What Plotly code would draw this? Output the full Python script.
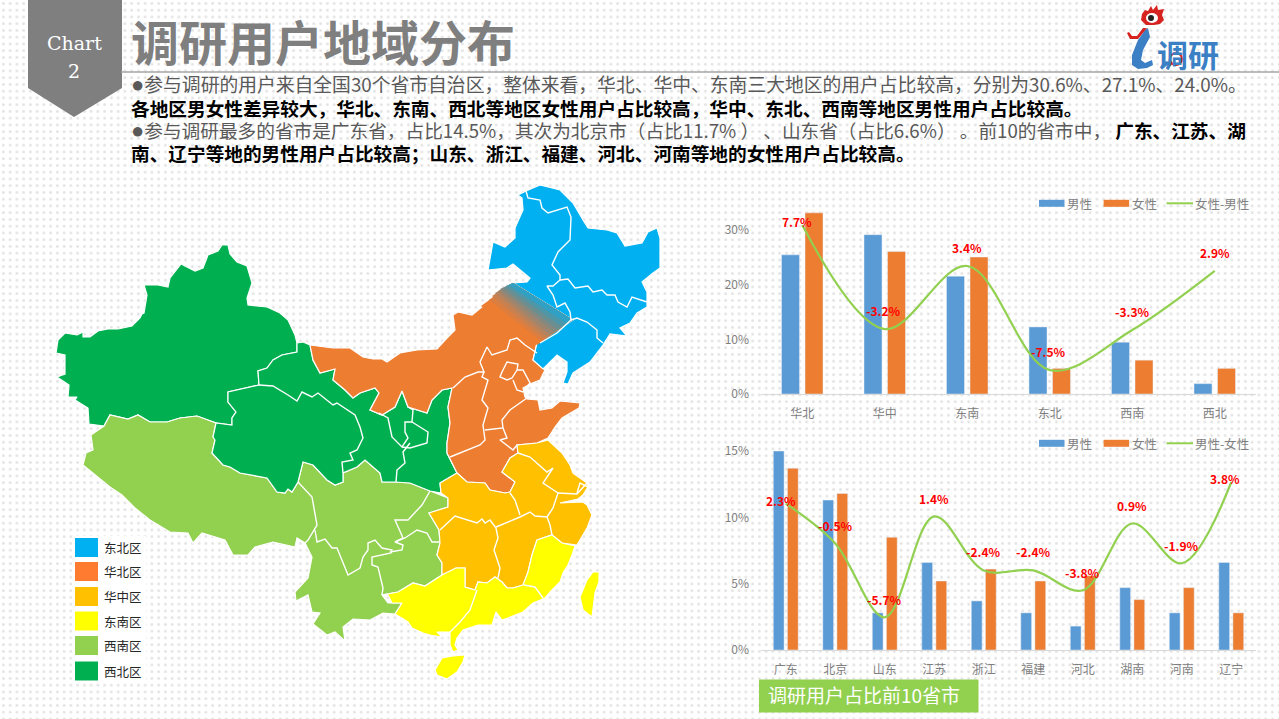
"""Survey respondents by region: slide with a region map and two bar + line charts."""

import base64

import plotly.graph_objects as go

BLUE = "#5b9bd5"
ORANGE = "#ed7d31"
GREEN = "#92d050"
FONT = "Noto Sans CJK SC"

# top chart
regions = ["华北", "华中", "东南", "东北", "西南", "西北"]
region_male = [25.5, 29.2, 21.6, 12.3, 9.5, 1.9]
region_female = [33.2, 26.1, 25.1, 4.7, 6.2, 4.7]
region_diff = [7.7, -3.2, 3.4, -7.5, -3.3, 2.9]
region_ticks = [0, 10, 20, 30]
region_tick_labels = ["0%", "10%", "20%", "30%"]
region_label_xshift = [-5, -1, 0, -1, 0, 0]
region_label_yshift = [3, 19, 19, 19, 19, 18]

# bottom chart
provinces = ["广东", "北京", "山东", "江苏", "浙江", "福建", "河北", "湖南", "河南", "辽宁"]
province_male = [15.0, 11.3, 2.8, 6.6, 3.7, 2.8, 1.8, 4.7, 2.8, 6.6]
province_female = [13.7, 11.8, 8.5, 5.2, 6.1, 5.2, 5.6, 3.8, 4.7, 2.8]
province_diff = [2.3, -0.5, -5.7, 1.4, -2.4, -2.4, -3.8, 0.9, -1.9, 3.8]
province_ticks = [0, 5, 10, 15]
province_tick_labels = ["0%", "5%", "10%", "15%"]
province_label_xshift = [-5, 0, 0, 0, 0, 0, 0, 0, 0, -6]
province_label_yshift = [3, 18, 18, 18, 19, 19, 18, 18, 18, 4]

# map outlines, page pixels
xinjiang = [(56, 353), (58, 340), (65, 333), (77, 335), (83, 332), (83, 337), (90, 337), (98, 331), (108, 329),
            (118, 329), (132, 326), (140, 318), (142, 314), (144, 313), (147, 295), (144, 285), (158, 285), (168, 287),
            (170, 278), (181, 264), (195, 271), (203, 268), (208, 255), (218, 251), (222, 245), (228, 245), (230, 254),
            (237, 262), (247, 266), (252, 283), (247, 298), (248, 305), (267, 307), (280, 313), (288, 320), (295, 335),
            (297, 343), (297, 352), (282, 355), (273, 360), (267, 368), (258, 371), (259, 385), (228, 392), (228, 402),
            (236, 412), (232, 418), (232, 425), (216, 423), (197, 416), (180, 418), (167, 422), (150, 422), (138, 415),
            (128, 419), (110, 415), (104, 426), (89, 424), (88, 408), (75, 400), (77, 397), (68, 397), (69, 385),
            (57, 377), (65, 374), (65, 355)]
northwest = [(297, 343), (303, 342), (310, 345), (313, 360), (320, 373), (335, 369), (333, 380), (345, 390), (353, 398),
             (360, 393), (375, 388), (379, 393), (370, 410), (382, 415), (395, 407), (402, 391), (408, 407), (427, 413),
             (432, 400), (442, 390), (452, 388), (448, 407), (450, 423), (447, 443), (447, 453), (457, 473), (440, 483),
             (441, 493), (430, 491), (410, 483), (395, 482), (382, 482), (380, 473), (365, 460), (357, 467), (343, 473),
             (343, 482), (335, 485), (327, 480), (313, 465), (303, 462), (298, 482), (292, 492), (288, 489), (285, 493),
             (277, 492), (267, 478), (240, 473), (230, 467), (223, 465), (212, 453), (215, 440), (213, 437), (216, 423),
             (232, 425), (232, 418), (236, 412), (228, 402), (228, 392), (259, 385), (258, 371), (267, 368), (273, 360),
             (282, 355), (297, 352)]
southwest = [(83, 465), (86, 453), (93, 450), (91, 435), (104, 426), (110, 415), (128, 419), (138, 415), (150, 422),
             (167, 422), (180, 418), (197, 416), (216, 423), (213, 437), (215, 440), (212, 453), (223, 465), (230, 467),
             (240, 473), (267, 478), (277, 492), (285, 493), (288, 489), (292, 492), (298, 482), (303, 462), (313, 465),
             (327, 480), (335, 485), (343, 482), (343, 473), (357, 467), (365, 460), (380, 473), (382, 482), (395, 482),
             (410, 483), (430, 491), (448, 498), (448, 507), (429, 513), (439, 530), (440, 543), (437, 555), (442, 563),
             (442, 575), (425, 586), (413, 583), (398, 592), (382, 595), (388, 603), (402, 603), (395, 614), (383, 613),
             (370, 620), (353, 619), (343, 627), (345, 641), (335, 632), (327, 635), (313, 624), (320, 613), (312, 612),
             (308, 595), (296, 601), (295, 592), (308, 578), (312, 557), (305, 543), (297, 538), (295, 547), (273, 542),
             (255, 547), (248, 555), (233, 555), (225, 540), (202, 533), (193, 543), (188, 533), (170, 532), (150, 520),
             (135, 508), (122, 495), (110, 487)]
north = [(310, 345), (333, 348), (350, 348), (363, 357), (373, 359), (382, 359), (387, 362), (400, 353), (417, 350),
         (437, 349), (447, 338), (455, 330), (453, 315), (458, 312), (472, 315), (483, 306), (537, 343), (533, 360),
         (545, 370), (540, 380), (530, 384), (523, 388), (525, 397), (527, 399), (538, 400), (540, 410), (552, 408),
         (560, 401), (580, 403), (579, 408), (567, 415), (562, 418), (555, 427), (548, 438), (537, 443), (517, 445),
         (518, 453), (510, 458), (502, 472), (515, 482), (510, 492), (505, 493), (490, 490), (485, 483), (467, 482),
         (457, 473), (447, 453), (447, 443), (450, 423), (448, 407), (452, 388), (442, 390), (432, 400), (427, 413),
         (408, 407), (402, 391), (395, 407), (382, 415), (370, 410), (379, 393), (375, 388), (360, 393), (353, 398),
         (345, 390), (333, 380), (335, 369), (320, 373), (313, 360)]
central = [(440, 483), (457, 473), (467, 482), (485, 483), (490, 490), (505, 493), (510, 492), (515, 482), (502, 472),
           (510, 458), (518, 453), (517, 445), (537, 443), (548, 440), (562, 453), (570, 465), (573, 473), (587, 483),
           (588, 488), (583, 495), (578, 499), (560, 503), (583, 502), (587, 505), (592, 515), (587, 528), (577, 545),
           (562, 543), (552, 535), (537, 540), (532, 555), (528, 572), (523, 585), (513, 588), (507, 588), (502, 582),
           (495, 577), (487, 583), (478, 582), (475, 590), (465, 587), (465, 568), (456, 568), (442, 575), (442, 563),
           (437, 555), (440, 543), (439, 530), (429, 513), (448, 507), (448, 498), (441, 493)]
southeast = [(382, 595), (398, 592), (413, 583), (425, 586), (442, 575), (456, 568), (465, 568), (465, 587), (475, 590),
             (478, 582), (487, 583), (495, 577), (502, 582), (507, 588), (513, 588), (523, 585), (528, 572), (532, 555),
             (537, 540), (552, 535), (562, 543), (575, 546), (572, 555), (568, 565), (563, 573), (560, 582), (552, 590),
             (545, 598), (533, 603), (523, 612), (508, 618), (502, 620), (496, 612), (492, 625), (478, 625), (463, 630),
             (457, 638), (455, 645), (458, 650), (453, 652), (450, 645), (450, 632), (437, 632), (442, 637), (430, 635),
             (423, 633), (412, 628), (408, 622), (395, 614), (402, 603), (392, 603), (388, 595)]
hainan = [(435, 670), (442, 658), (453, 656), (465, 655), (463, 662), (457, 672), (447, 679), (437, 675)]
taiwan = [(593, 572), (599, 572), (599, 582), (595, 593), (592, 617), (583, 610), (580, 597), (587, 580)]
northeast = [(488, 270), (493, 242), (505, 247), (515, 238), (515, 228), (523, 210), (522, 198), (518, 195), (526, 191),
             (540, 185), (560, 190), (573, 203), (583, 220), (588, 228), (607, 230), (617, 233), (625, 246), (642, 243),
             (648, 232), (657, 228), (660, 238), (660, 268), (653, 273), (642, 282), (647, 292), (647, 307), (637, 313),
             (630, 323), (620, 328), (627, 336), (610, 334), (603, 345), (590, 362), (573, 373), (568, 384), (563, 383),
             (567, 372), (567, 362), (557, 355), (543, 369), (533, 360), (537, 343), (573, 320), (513, 283), (527, 282),
             (530, 278), (513, 264), (507, 268)]

# orange to blue fade across Inner Mongolia: each band runs to the blue end
fade_bands = [
    ("#ed7d31", [(481, 306), (513, 283), (573, 320), (537, 345)]),
    ("#dc7e3f", [(489, 300), (513, 283), (573, 320), (541, 341)]),
    ("#c9814f", [(492, 296), (513, 283), (573, 320), (544, 339)]),
    ("#b4835f", [(495, 293), (513, 283), (573, 320), (547, 337)]),
    ("#9d8670", [(498, 291), (513, 283), (573, 320), (550, 335)]),
    ("#858a80", [(500, 289), (513, 283), (573, 320), (554, 332)]),
    ("#6a8f92", [(503, 288), (513, 283), (573, 320), (558, 330)]),
    ("#4e97a8", [(506, 286), (513, 283), (573, 320), (562, 327)]),
    ("#30a1c4", [(509, 285), (513, 283), (573, 320), (567, 324)]),
]

province_borders = [
    [(526, 191), (528, 198), (540, 200), (542, 208), (548, 213), (567, 207), (571, 217), (570, 240), (558, 252),
     (552, 265), (560, 275), (560, 280), (553, 286), (547, 286), (553, 295), (557, 307), (565, 303), (570, 312),
     (571, 320), (557, 333), (540, 343)],
    [(560, 280), (568, 279), (575, 288), (588, 286), (593, 292), (602, 290), (607, 295), (615, 295), (618, 302),
     (627, 307), (632, 297), (647, 302)],
    [(571, 320), (577, 318), (587, 322), (597, 330), (597, 338), (603, 343)],
    [(537, 353), (525, 345), (517, 338), (510, 340), (507, 350), (492, 355), (487, 347), (480, 362), (484, 372),
     (478, 372), (465, 377), (453, 388)],
    [(484, 372), (482, 377), (488, 380), (482, 400), (488, 408), (483, 425), (485, 440), (480, 445), (450, 457)],
    [(485, 430), (503, 428), (502, 420), (510, 410), (527, 398)],
    [(503, 428), (507, 438), (500, 440), (513, 450), (517, 445)],
    [(502, 372), (507, 362), (518, 364), (517, 370), (512, 378), (507, 380), (500, 377), (502, 372)],
    [(517, 370), (523, 370), (530, 383), (523, 392), (517, 390), (513, 380)],
    [(259, 385), (273, 386), (288, 395), (297, 401), (302, 392), (312, 397), (318, 393), (333, 405), (337, 403),
     (355, 415), (360, 427), (363, 438), (357, 450), (350, 453), (353, 460), (342, 462), (343, 473)],
    [(379, 413), (388, 418), (392, 437), (402, 447), (408, 438), (405, 432), (405, 422), (412, 422), (413, 410),
     (408, 407)],
    [(412, 422), (428, 432), (427, 443), (410, 448), (402, 447)],
    [(410, 443), (403, 452), (405, 463), (397, 470), (396, 482)],
    [(315, 530), (317, 542), (325, 539), (332, 548), (337, 548), (345, 568), (348, 575), (360, 568), (363, 557),
     (368, 550), (368, 543), (375, 540), (382, 548), (392, 550), (391, 553), (372, 557), (372, 565), (378, 567),
     (383, 588), (382, 595)],
    [(298, 482), (312, 497), (317, 525), (308, 540), (305, 543)],
    [(390, 552), (402, 550), (403, 545), (395, 542), (405, 538), (417, 530), (427, 533), (432, 542), (439, 542)],
    [(395, 542), (403, 538), (395, 520), (408, 520), (422, 505), (430, 491)],
    [(477, 590), (470, 610), (460, 622), (450, 632)],
    [(524, 585), (535, 587), (543, 598)],
    [(440, 530), (450, 520), (455, 516), (477, 523), (482, 519), (485, 523), (490, 520), (496, 528), (498, 538),
     (494, 550), (500, 568), (498, 578)],
    [(496, 527), (520, 517), (530, 512), (535, 516), (547, 517), (550, 525), (552, 535)],
    [(520, 515), (515, 500), (510, 493)],
    [(518, 453), (530, 457), (547, 472), (553, 468), (543, 483), (558, 493), (553, 508), (547, 517)],
    [(558, 493), (577, 494), (587, 483)],
    [(577, 493), (580, 483), (588, 487), (583, 495)],
]

map_names = ["东北区", "华北区", "华中区", "东南区", "西南区", "西北区"]
map_colors = ["#00b0f0", "#ff7b2f", "#ffc000", "#ffff00", "#92d050", "#00b050"]
map_legend_y = [547.5, 571.5, 596.5, 621, 645.5, 671]

DOT = "<span style='font-size:22px;font-family:Liberation Sans'>●</span>"
body_lines = [
    (83.5, 18.8, DOT + "参与调研的用户来自全国30个省市自治区，整体来看，华北、华中、东南三大地区的用户占比较高，分别为30.6%、27.1%、24.0%。"),
    (107.5, 18.67, "<b style='color:black'>各地区男女性差异较大，华北、东南、西北等地区女性用户占比较高，华中、东北、西南等地区男性用户占比较高。</b>"),
    (129.5, 18.67, DOT + "参与调研最多的省市是广东省，占比14.5%，其次为北京市（占比11.7% ） 、山东省（占比6.6%） 。前10的省市中， "
     "<b style='color:black'>广东、江苏、湖</b>"),
    (152.5, 18.67, "<b style='color:black'>南、辽宁等地的男性用户占比较高；山东、浙江、福建、河北、河南等地的女性用户占比较高。</b>"),
]

logo_ring = [(1141, 20), (1142, 14), (1145, 10), (1148, 11), (1151, 6), (1153, 10), (1157, 5), (1158, 10), (1164, 9),
             (1162, 15), (1164, 20), (1160, 24), (1154, 25), (1146, 25)]
logo_stem = [(1145, 30), (1138, 40), (1132, 55), (1132, 65), (1138, 69), (1147, 68), (1153, 65), (1152, 60), (1145, 63),
             (1141, 60), (1143, 50), (1150, 37), (1148, 28)]
logo_tie = [(1127, 33), (1130, 39), (1138, 39), (1147, 28), (1143, 28), (1137, 36), (1132, 36), (1129, 32)]
chart_tab = [(28, 0), (122, 0), (122, 88), (74, 117), (28, 88)]


def polygon(points, color, line_color=None, line_width=0):
    xs = [p[0] for p in points] + [points[0][0]]
    ys = [p[1] for p in points] + [points[0][1]]
    return go.Scatter(
        x=xs, y=ys, xaxis="x3", yaxis="y5", mode="lines", fill="toself", fillcolor=color,
        line=dict(color=line_color or color, width=line_width),
        hoverinfo="skip", showlegend=False,
    )


def page_text(x, y, text, size, color, anchor="left", family=FONT):
    return dict(
        xref="x3", yref="y5", x=x, y=y, text=text, showarrow=False, xanchor=anchor, yanchor="middle",
        font=dict(family=family, size=size, color=color), align="left",
    )


def add_chart(fig, cats, male, female, diff, xaxis, yaxis, diff_axis):
    fig.add_trace(go.Bar(x=cats, y=male, name="男性", marker_color=BLUE, xaxis=xaxis, yaxis=yaxis, showlegend=False))
    fig.add_trace(go.Bar(x=cats, y=female, name="女性", marker_color=ORANGE, xaxis=xaxis, yaxis=yaxis, showlegend=False))
    fig.add_trace(go.Scatter(
        x=cats, y=diff, mode="lines", xaxis=xaxis, yaxis=diff_axis, showlegend=False,
        line=dict(color=GREEN, width=2.2, shape="spline", smoothing=1.0),
    ))


# background dots as a tiled svg
dots_svg = (
    "<svg xmlns='http://www.w3.org/2000/svg' width='1279' height='719'>"
    "<defs><pattern id='d' width='6.75' height='6.75' patternUnits='userSpaceOnUse'>"
    "<circle cx='3.4' cy='3.4' r='1.45' fill='#e3e3e3'/></pattern></defs>"
    "<rect width='1279' height='719' fill='white'/><rect width='1279' height='719' fill='url(#d)'/></svg>"
)
dots_uri = "data:image/svg+xml;base64," + base64.b64encode(dots_svg.encode()).decode()

fig = go.Figure()

# map
for outline, color in [
    (xinjiang, "#00b050"), (southwest, "#92d050"), (northwest, "#00b050"), (north, ORANGE), (northeast, "#00b0f0"),
    (central, "#ffc000"), (southeast, "#ffff00"), (hainan, "#ffff00"), (taiwan, "#ffff00"),
]:
    fig.add_trace(polygon(outline, color, "white", 1.2))
for color, band in fade_bands:
    fig.add_trace(polygon(band, color))
for border in province_borders:
    fig.add_trace(go.Scatter(
        x=[p[0] for p in border], y=[p[1] for p in border], xaxis="x3", yaxis="y5", mode="lines",
        line=dict(color="white", width=1.4), hoverinfo="skip", showlegend=False,
    ))

# logo and header tab
fig.add_trace(polygon(chart_tab, "#7f7f7f"))
fig.add_trace(polygon(logo_stem, "#3b7fc4"))
fig.add_trace(polygon(logo_tie, "#d7231f"))
fig.add_trace(polygon(logo_ring, "#d7231f"))

add_chart(fig, regions, region_male, region_female, region_diff, "x", "y", "y2")
add_chart(fig, provinces, province_male, province_female, province_diff, "x2", "y3", "y4")

annotations = [
    page_text(74, 43, "Chart", 19, "white", "center", "DejaVu Serif"),
    page_text(74, 71, "2", 19, "white", "center", "DejaVu Serif"),
    page_text(129, 40, "<b>调研用户地域分布</b>", 48, "#7f7f7f"),
    page_text(1188, 53, "<b>调研</b>", 31, "#3b7fc4", "center"),
    page_text(766, 694, "调研用户占比前10省市", 19, "white"),
]
for y, size, line in body_lines:
    annotations.append(page_text(129, y, line, size, "#595959"))
for name, y in zip(map_names, map_legend_y):
    annotations.append(page_text(102, y, name, 12.5, "#262626"))

# chart legends
shapes = []
for top, diff_name in [(203.3, "女性-男性"), (443.3, "男性-女性")]:
    for x0, color, name in [(1039, BLUE, "男性"), (1103.6, ORANGE, "女性")]:
        shapes.append(dict(type="rect", xref="x3", yref="y5", x0=x0, x1=x0 + 25.5, y0=top - 3.5, y1=top + 3.5,
                           fillcolor=color, line_width=0))
        annotations.append(page_text(x0 + 26, top, name, 12.5, "#7f7f7f"))
    shapes.append(dict(type="line", xref="x3", yref="y5", x0=1166.5, x1=1193, y0=top, y1=top,
                       line=dict(color=GREEN, width=2)))
    annotations.append(page_text(1193, top, diff_name, 12.5, "#7f7f7f"))

# red value labels sit on the line points
for xref, yref, cats, diff, xshift, yshift in [
    ("x", "y2", regions, region_diff, region_label_xshift, region_label_yshift),
    ("x2", "y4", provinces, province_diff, province_label_xshift, province_label_yshift),
]:
    for i, d in enumerate(diff):
        annotations.append(dict(
            xref=xref, yref=yref, x=cats[i], y=d, text=f"<b>{d:.1f}%</b>", showarrow=False,
            xshift=xshift[i], yshift=yshift[i], font=dict(family=FONT, size=12, color="#ff0000"),
        ))

shapes += [
    dict(type="line", xref="x3", yref="y5", x0=121, x1=1279, y0=72, y1=72, line=dict(color="#a6a6a6", width=1.5)),
    dict(type="rect", xref="x3", yref="y5", x0=72, x1=146, y0=536, y1=683, fillcolor="white", line_width=0,
         layer="below"),
    dict(type="rect", xref="x3", yref="y5", x0=759, x1=978.5, y0=679.5, y1=712.5, fillcolor=GREEN, line_width=0,
         layer="below"),
    dict(type="circle", xref="x3", yref="y5", x0=1146, x1=1158, y0=13, y1=23, fillcolor="white", line_width=0),
    dict(type="circle", xref="x3", yref="y5", x0=1148, x1=1154, y0=15, y1=21, fillcolor="#222222", line_width=0),
    dict(type="circle", xref="x3", yref="y5", x0=1170, x1=1182, y0=53, y1=65, fillcolor="white",
         line=dict(color="#d7231f", width=2)),
    dict(type="line", xref="x3", yref="y5", x0=1172, x1=1167, y0=63, y1=68, line=dict(color="#d7231f", width=2)),
]
for color, y in zip(map_colors, map_legend_y):
    shapes.append(dict(type="rect", xref="x3", yref="y5", x0=75, x1=98, y0=y - 9.5, y1=y + 9.5, fillcolor=color,
                       line_width=0))

axis_font = dict(family=FONT, size=12, color="#7f7f7f")
cat_axis = dict(tickfont=axis_font, showgrid=False, zeroline=False, showline=True, linecolor="#d9d9d9", linewidth=1,
                ticks="", ticklabelstandoff=9, fixedrange=True, automargin=False)
val_axis = dict(tickfont=axis_font, showgrid=False, zeroline=False, showline=False, ticks="",
                ticklabelstandoff=11, fixedrange=True, automargin=False)

fig.update_layout(
    width=1279,
    height=719,
    margin=dict(l=0, r=0, t=0, b=0),
    paper_bgcolor="rgba(0,0,0,0)",
    plot_bgcolor="rgba(0,0,0,0)",
    barmode="group",
    bargap=0.43,
    bargroupgap=0.235,
    showlegend=False,
    hovermode=False,
    images=[dict(source=dots_uri, xref="paper", yref="paper", x=0, y=1, sizex=1, sizey=1, sizing="stretch",
                 layer="below", xanchor="left", yanchor="top")],
    xaxis=dict(domain=[761 / 1279, 1256 / 1279], anchor="y", **cat_axis),
    yaxis=dict(domain=[1 - 394 / 719, 1 - 203 / 719], anchor="x", range=[0, 35], tickvals=region_ticks,
               ticktext=region_tick_labels, **val_axis),
    yaxis2=dict(domain=[1 - 394 / 719, 1 - 203 / 719], anchor="x", overlaying="y", side="right", range=[-10, 10],
                visible=False, automargin=False),
    xaxis2=dict(domain=[761 / 1279, 1256 / 1279], anchor="y3", **cat_axis),
    yaxis3=dict(domain=[1 - 650 / 719, 1 - 451 / 719], anchor="x2", range=[0, 15], tickvals=province_ticks,
                ticktext=province_tick_labels, **val_axis),
    yaxis4=dict(domain=[1 - 650 / 719, 1 - 451 / 719], anchor="x2", overlaying="y3", side="right", range=[-8, 6],
                visible=False, automargin=False),
    # page pixel axes for the map and the slide furniture
    xaxis3=dict(domain=[0, 1], range=[0, 1279], visible=False, anchor="y5", fixedrange=True, automargin=False),
    yaxis5=dict(domain=[0, 1], range=[719, 0], visible=False, anchor="x3", fixedrange=True, automargin=False),
    shapes=shapes,
    annotations=annotations,
)

fig.write_html(
    "out.html",
    config={"displayModeBar": False},
    post_script="document.body.style.margin='0';document.body.style.overflow='hidden';",
)
